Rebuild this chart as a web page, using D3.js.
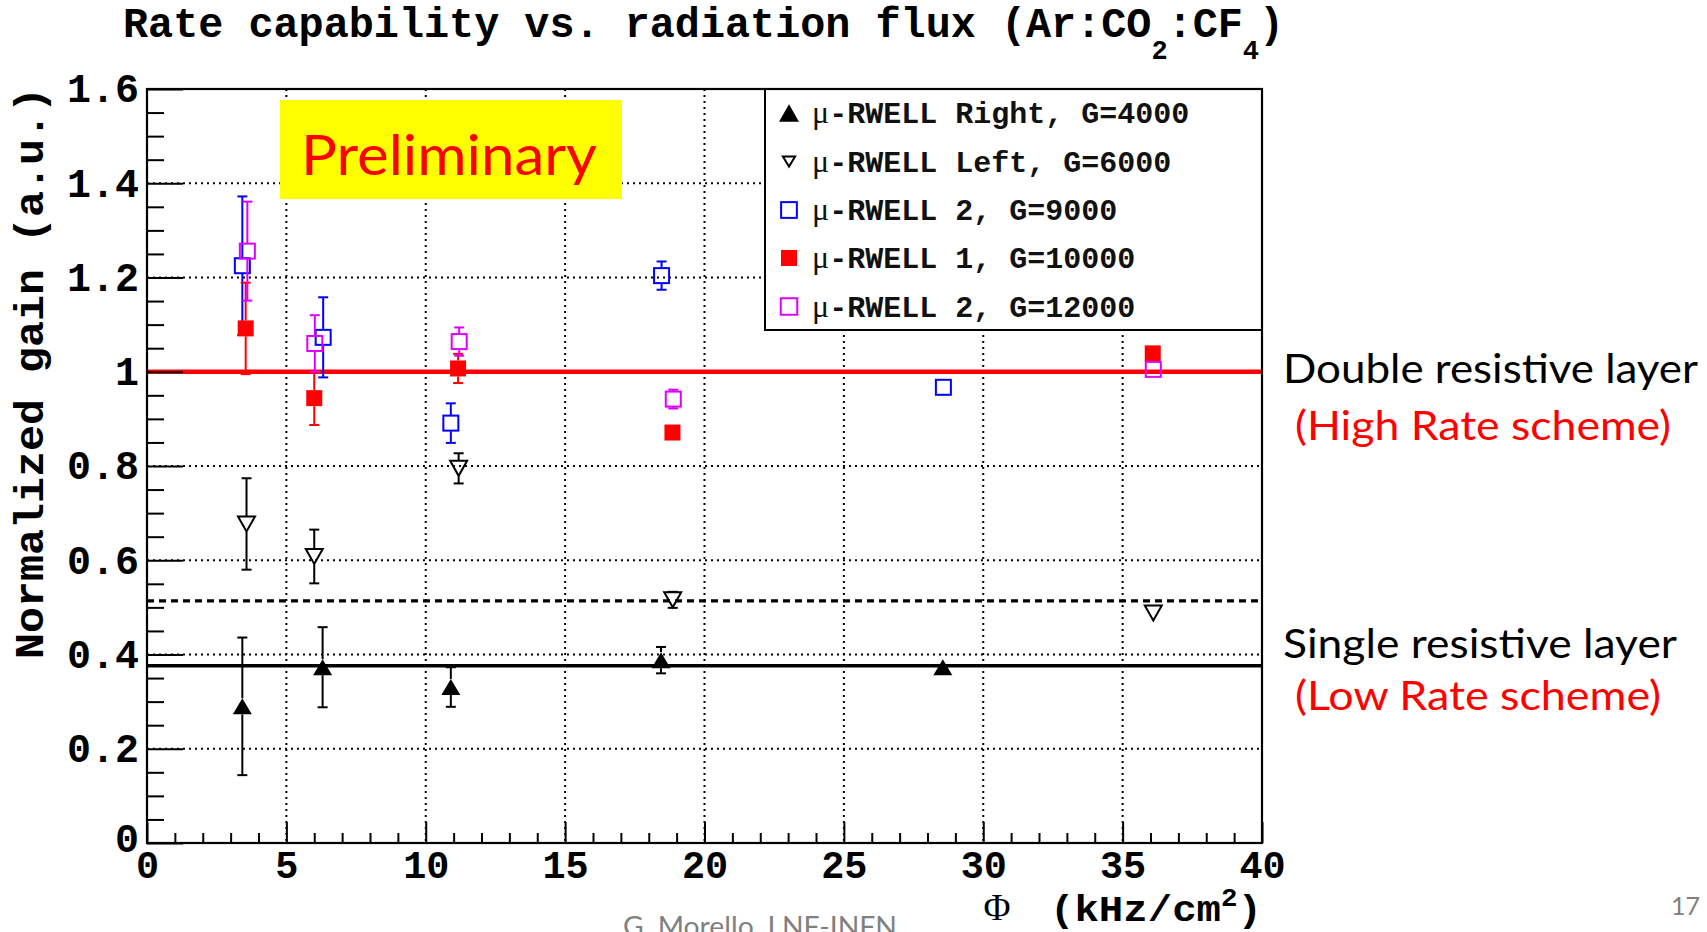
<!DOCTYPE html>
<html><head><meta charset="utf-8">
<script src="https://cdn.jsdelivr.net/npm/d3@7"></script>
<style>body{margin:0;background:#fff;overflow:hidden;} svg{display:block;}</style>
</head><body>
<svg id="c" width="1707" height="932"></svg>
<script>
// ---------- data ----------
const xMajorTicks = [0, 5, 10, 15, 20, 25, 30, 35, 40];
const yMajorTicks = [0, 0.2, 0.4, 0.6, 0.8, 1.0, 1.2, 1.4, 1.6];

const rightX = [3.42, 6.30, 10.90, 18.44, 28.55];
const rightY = [0.290, 0.373, 0.331, 0.388, 0.373];
const rightE = [0.146, 0.085, 0.042, 0.028, 0];

const leftX = [3.57, 6.00, 11.18, 18.86, 36.10];
const leftY = [0.677, 0.608, 0.795, 0.516, 0.488];
const leftE = [0.097, 0.057, 0.032, 0.017, 0];

const r2g9000X = [3.42, 6.32, 10.90, 18.46, 28.57];
const r2g9000Y = [1.225, 1.073, 0.891, 1.204, 0.967];
const r2g9000E = [0.147, 0.085, 0.042, 0.030, 0];

const r1g10000X = [3.54, 6.00, 11.16, 18.85, 36.08];
const r1g10000Y = [1.092, 0.944, 1.007, 0.871, 1.039];
const r1g10000E = [0.097, 0.057, 0.031, 0.012, 0];

const r2g12000X = [3.60, 6.02, 11.20, 18.88, 36.10];
const r2g12000Y = [1.256, 1.060, 1.064, 0.942, 1.005];
const r2g12000E = [0.105, 0.060, 0.030, 0.020, 0];

const legendLabels = ["μ-RWELL Right, G=4000", "μ-RWELL Left, G=6000", "μ-RWELL 2, G=9000", "μ-RWELL 1, G=10000", "μ-RWELL 2, G=12000"];

const highRateLevel = 1.0;
const leftLevel = 0.514;
const lowRateLevel = 0.376;

// ---------- setup ----------
const svg = d3.select("#c");
const x = d3.scaleLinear().domain([0, 40]).range([147, 1262]);
const y = d3.scaleLinear().domain([0, 1.6]).range([843, 89]);
const MONO = "'Liberation Mono','DejaVu Sans Mono',monospace";
const SANS = "Lato,'Open Sans',sans-serif";

const series = [
  {xs: rightX, ys: rightY, es: rightE, type: "triUp", color: "#000"},
  {xs: leftX, ys: leftY, es: leftE, type: "triDown", color: "#000"},
  {xs: r2g9000X, ys: r2g9000Y, es: r2g9000E, type: "sqOpen", color: "#0000ff"},
  {xs: r1g10000X, ys: r1g10000Y, es: r1g10000E, type: "sqFill", color: "#ff0000"},
  {xs: r2g12000X, ys: r2g12000Y, es: r2g12000E, type: "sqOpen", color: "#dd00ff"}
];

function markerHalf(type, s) {
  return 8 * s;
}
function drawMarker(g, type, cx, cy, color, s, sy) {
  s = s || 1; sy = sy || s;
  if (type === "triUp") {
    g.append("path").attr("d", `M${cx-9.5*s},${cy+8*sy}L${cx+9.5*s},${cy+8*sy}L${cx},${cy-8*sy}Z`).attr("fill", color);
  } else if (type === "triDown") {
    g.append("path").attr("d", `M${cx-8.5*s},${cy-7.5*sy}L${cx+8.5*s},${cy-7.5*sy}L${cx},${cy+7.5*sy}Z`)
      .attr("fill", "none").attr("stroke", color).attr("stroke-width", 2).attr("stroke-linejoin", "miter");
  } else if (type === "sqOpen") {
    g.append("rect").attr("x", cx-7.5*s).attr("y", cy-7.5*s).attr("width", 15*s).attr("height", 15*s)
      .attr("fill", "none").attr("stroke", color).attr("stroke-width", 2);
  } else {
    g.append("rect").attr("x", cx-8*s).attr("y", cy-8*s).attr("width", 16*s).attr("height", 16*s).attr("fill", color);
  }
}

// ---------- grid ----------
const grid = svg.append("g").attr("stroke", "#000").attr("stroke-width", 2).attr("stroke-dasharray", "2,4");
grid.selectAll("line.v").data(xMajorTicks.slice(1, -1)).join("line")
  .attr("x1", d => x(d)).attr("x2", d => x(d)).attr("y1", y(1.6)).attr("y2", y(0));
grid.selectAll("line.h").data(yMajorTicks.slice(1, -1)).join("line")
  .attr("x1", x(0)).attr("x2", x(40)).attr("y1", d => y(d)).attr("y2", d => y(d));

// ---------- Preliminary box ----------
svg.append("rect").attr("x", 280).attr("y", 100).attr("width", 342).attr("height", 99).attr("fill", "#ffff00");
svg.append("text").attr("x", 301).attr("y", 175).attr("font-family", SANS).attr("font-size", 56)
  .attr("fill", "#ff0000").attr("textLength", 296).attr("lengthAdjust", "spacingAndGlyphs").text("Preliminary");

// ---------- legend ----------
const lg = svg.append("g");
lg.append("rect").attr("x", 765).attr("y", 89).attr("width", 497).attr("height", 241)
  .attr("fill", "#fff").attr("stroke", "#000").attr("stroke-width", 2);
const legRows = [113, 161.5, 210, 258, 306.5];
const legScale = [{s: 1.05, sy: 1.1}, {s: 0.72, sy: 0.68}, {s: 1.05}, {s: 1.0}, {s: 1.1}];
series.forEach((sr, i) => {
  drawMarker(lg, sr.type, 789, legRows[i], sr.color, legScale[i].s, legScale[i].sy);
  const t = lg.append("text").attr("x", 812).attr("y", legRows[i] + 10).attr("font-family", MONO)
    .attr("font-weight", "bold").attr("font-size", 30).attr("fill", "#111");
  t.append("tspan").attr("font-family", "'Liberation Serif',serif").attr("font-weight", "normal").attr("font-size", 32).text(legendLabels[i][0]);
  t.append("tspan").text(legendLabels[i].slice(1));
});

// ---------- reference lines ----------
svg.append("line").attr("x1", x(0)).attr("x2", x(40)).attr("y1", y(highRateLevel)).attr("y2", y(highRateLevel))
  .attr("stroke", "#ff0000").attr("stroke-width", 4.5);
svg.append("line").attr("x1", x(0)).attr("x2", x(40)).attr("y1", y(leftLevel)).attr("y2", y(leftLevel))
  .attr("stroke", "#000").attr("stroke-width", 3.2).attr("stroke-dasharray", "7,5");
svg.append("line").attr("x1", x(0)).attr("x2", x(40)).attr("y1", y(lowRateLevel)).attr("y2", y(lowRateLevel))
  .attr("stroke", "#000").attr("stroke-width", 3.5);

// ---------- data points ----------
const pts = svg.append("g");
series.forEach(sr => {
  const g = pts.append("g");
  sr.xs.forEach((xv, i) => {
    const cx = x(xv), cy = y(sr.ys[i]), e = sr.es[i], h = markerHalf(sr.type, 1);
    if (e > 0) {
      const top = y(sr.ys[i] + e), bot = y(sr.ys[i] - e);
      if (top < cy - h) g.append("line").attr("x1", cx).attr("x2", cx).attr("y1", top).attr("y2", cy - h).attr("stroke", sr.color).attr("stroke-width", 2);
      if (bot > cy + h) g.append("line").attr("x1", cx).attr("x2", cx).attr("y1", cy + h).attr("y2", bot).attr("stroke", sr.color).attr("stroke-width", 2);
      [top, bot].forEach(yy => g.append("line").attr("x1", cx - 5).attr("x2", cx + 5).attr("y1", yy).attr("y2", yy).attr("stroke", sr.color).attr("stroke-width", 2));
    }
    drawMarker(g, sr.type, cx, cy, sr.color, 1);
  });
});

// ---------- axes ----------
const yMinor = d3.range(0, 1.6001, 0.05).filter(v => Math.abs(Math.round(v / 0.2) * 0.2 - v) > 1e-6);
const xMinor = d3.range(0, 40.001, 1).filter(v => v % 5 !== 0);

const ya = svg.append("g").attr("transform", `translate(${x(0)},0)`);
ya.call(d3.axisLeft(y).tickValues(yMajorTicks).tickSize(-36).tickSizeOuter(0).tickPadding(8)
  .tickFormat(d => String(+d.toFixed(1))));
ya.append("g").call(d3.axisLeft(y).tickValues(yMinor).tickSize(-17).tickSizeOuter(0).tickFormat(""));
ya.selectAll(".domain").remove();
ya.selectAll("line").attr("stroke", "#000").attr("stroke-width", 2);
ya.selectAll("text").attr("font-family", MONO).attr("font-weight", "bold").attr("font-size", 40).attr("fill", "#000");
ya.selectAll(".tick text").filter(d => d === 0).attr("dy", "0.2em");

const xa = svg.append("g").attr("transform", `translate(0,${y(0)})`);
xa.call(d3.axisBottom(x).tickValues(xMajorTicks).tickSize(-21).tickSizeOuter(0).tickPadding(0).tickFormat(d => d));
xa.append("g").call(d3.axisBottom(x).tickValues(xMinor).tickSize(-10).tickSizeOuter(0).tickFormat(""));
xa.selectAll(".domain").remove();
xa.selectAll("line").attr("stroke", "#000").attr("stroke-width", 2);
xa.selectAll("text").attr("font-family", MONO).attr("font-weight", "bold").attr("font-size", 38.5)
  .attr("fill", "#000").attr("dy", null).attr("y", 35);

// frame
svg.append("rect").attr("x", x(0)).attr("y", y(1.6)).attr("width", x(40) - x(0)).attr("height", y(0) - y(1.6))
  .attr("fill", "none").attr("stroke", "#000").attr("stroke-width", 2.2);

// ---------- titles ----------
const title = svg.append("text").attr("x", 123).attr("y", 37).attr("font-family", MONO)
  .attr("font-weight", "bold").attr("font-size", 41.8).attr("fill", "#000");
title.append("tspan").text("Rate capability vs. radiation flux (Ar:CO");
title.append("tspan").attr("font-size", 27).attr("dy", 22).text("2");
title.append("tspan").attr("dy", -22).text(":CF");
title.append("tspan").attr("font-size", 27).attr("dy", 22).text("4");
title.append("tspan").attr("dy", -22).text(")");

svg.append("text").attr("transform", "translate(43,659) rotate(-90)").attr("font-family", MONO)
  .attr("font-weight", "bold").attr("font-size", 40).attr("fill", "#000")
  .attr("textLength", 572).attr("lengthAdjust", "spacingAndGlyphs").text("Normalized gain (a.u.)");

svg.append("text").attr("x", 997).attr("y", 920).attr("text-anchor", "middle")
  .attr("font-family", "'Liberation Serif',serif").attr("font-size", 37).attr("fill", "#000").text("Φ");
const xt = svg.append("text").attr("x", 1262).attr("y", 921).attr("text-anchor", "end").attr("font-family", MONO)
  .attr("font-weight", "bold").attr("font-size", 37).attr("fill", "#000")
  .attr("textLength", 212).attr("lengthAdjust", "spacingAndGlyphs");
xt.append("tspan").text("(kHz/cm");
xt.append("tspan").attr("font-size", 25).attr("dy", -15).text("2");
xt.append("tspan").attr("dy", 15).text(")");

// ---------- annotations ----------
const ann = [
  {t: "Double resistive layer", x: 1283, y: 383, w: 415, c: "#000"},
  {t: "(High Rate scheme)", x: 1295, y: 440, w: 376, c: "#ff0000"},
  {t: "Single resistive layer", x: 1283, y: 658, w: 394, c: "#000"},
  {t: "(Low Rate scheme)", x: 1295, y: 710, w: 366, c: "#ff0000"}
];
ann.forEach(a => svg.append("text").attr("x", a.x).attr("y", a.y).attr("font-family", SANS).attr("font-size", 41)
  .attr("fill", a.c).attr("textLength", a.w).attr("lengthAdjust", "spacingAndGlyphs").text(a.t));

svg.append("text").attr("x", 623).attr("y", 936).attr("font-family", SANS).attr("font-size", 26)
  .attr("fill", "#808080").attr("textLength", 274).attr("lengthAdjust", "spacingAndGlyphs").text("G. Morello, LNF-INFN");
svg.append("text").attr("x", 1700).attr("y", 915).attr("text-anchor", "end").attr("font-family", SANS)
  .attr("font-size", 25).attr("fill", "#7f7f7f").text("17");
</script>
</body></html>
